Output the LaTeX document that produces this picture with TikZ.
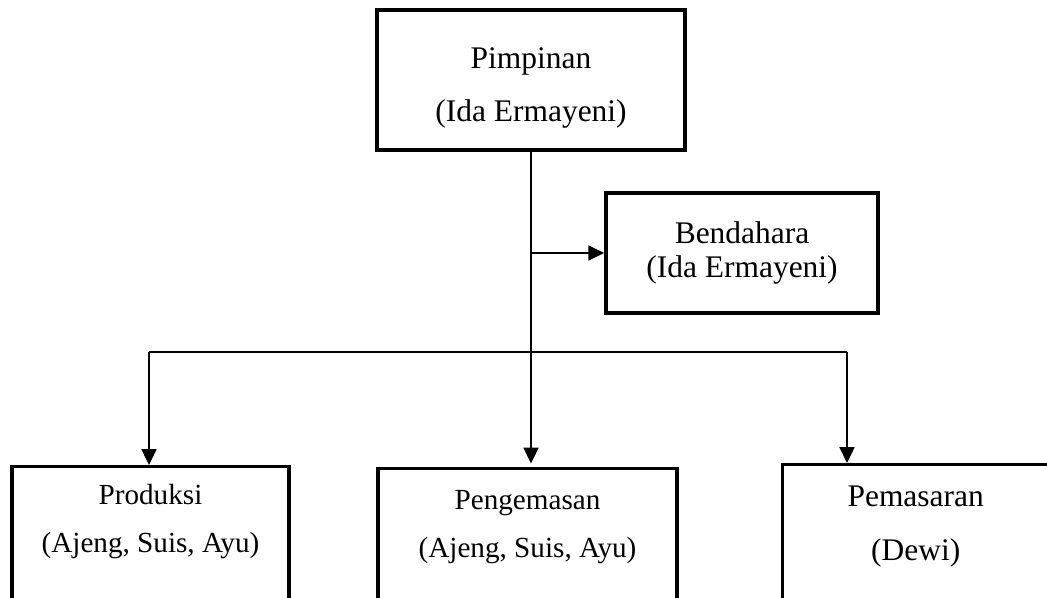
\documentclass[tikz,border=0pt]{standalone}
\usepackage{fontspec}
\setmainfont{Liberation Serif}
\usetikzlibrary{arrows.meta,positioning}
\tikzset{
  unit/.style={draw, line width=2.1pt, inner sep=0pt, align=center,
               font=\fontsize{17.9}{30.1}\selectfont},
  subunit/.style={unit, line width=1.9pt},
  lbl/.style={inner sep=0pt, align=center, font=\fontsize{16.6}{27.3}\selectfont},
  link/.style={line width=1.1pt},
  flow/.style={link, -{Triangle[length=9pt, width=8.5pt]}}
}
\begin{document}
\begin{tikzpicture}[y=-1cm]
    \useasboundingbox (0,0) rectangle (20.94,11.96);
    \clip (0,0) rectangle (20.94,11.96);

    %% Top level
    \node[unit, minimum width=6.16cm, minimum height=2.8cm] (pim) at (10.62,1.6) {};
    \node[lbl, below=0.78cm of pim.north, font=\fontsize{17.9}{30.1}\selectfont] (pimtxt)
          {Pimpinan\\(Ida Ermayeni)};
    \node[unit, minimum width=5.44cm, minimum height=2.4cm,
          font=\fontsize{17.9}{18.8}\selectfont] (bend) at (14.84,5.06)
          {Bendahara\\(Ida Ermayeni)};

    %% Divisions
    \node[subunit, anchor=north, minimum width=5.54cm, minimum height=3.4cm] (prod) at (3.01,9.30) {};
    \node[subunit, anchor=north, minimum width=5.98cm, minimum height=3.4cm] (peng) at (10.55,9.34) {};
    \node[subunit, anchor=north west, minimum width=5.6cm, minimum height=3.4cm] (pem) at (15.62,9.26) {};
    \node[lbl, below=0.37cm of prod.north] (prodtxt) {Produksi\\(Ajeng, Suis, Ayu)};
    \node[lbl, below=0.47cm of peng.north] (pengtxt) {Pengemasan\\(Ajeng, Suis, Ayu)};
    \node[lbl, below=0.46cm of pem.north, xshift=-0.14cm,
          font=\fontsize{17.9}{30.7}\selectfont] (pemtxt) {Pemasaran\\(Dewi)};

    %% Connectors
    \coordinate (barL) at (2.98,7.04);
    \coordinate (barR) at (16.94,7.04);
    \draw[flow] (pim.south) -- ([yshift=2pt]pim.south |- peng.north);
    \draw[flow] (pim.south |- bend.west) -- (bend.west);
    \draw[link] (barL) -- (barR);
    \draw[flow] (barL) -- (barL |- prod.north);
    \draw[flow] (barR) -- (barR |- pem.north);
\end{tikzpicture}
\end{document}
